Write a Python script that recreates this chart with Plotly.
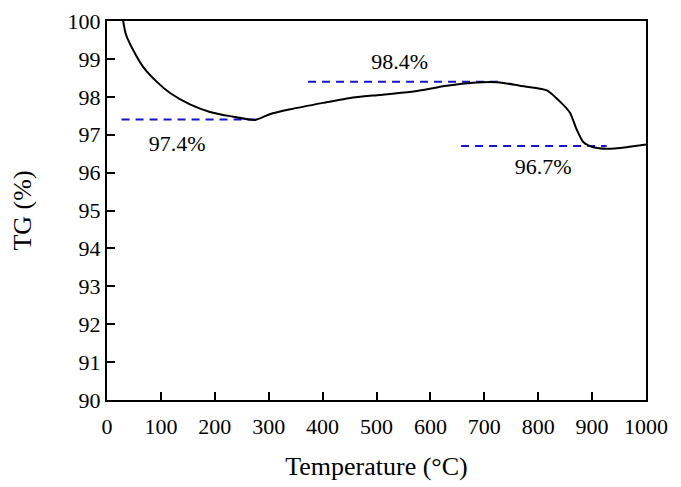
import plotly.graph_objects as go

# TG curve
temp = [30, 35, 49, 67, 92, 117, 154, 191, 228, 275, 302, 340, 401, 451, 506,
        568, 630, 679, 729, 766, 816, 840, 859, 871, 884, 902, 927, 964, 1000]
tg = [100.0, 99.65, 99.22, 98.79, 98.40, 98.10, 97.80, 97.60, 97.49, 97.39, 97.54,
      97.67, 97.84, 97.97, 98.05, 98.14, 98.29, 98.37, 98.38, 98.29, 98.17, 97.88,
      97.58, 97.15, 96.80, 96.67, 96.63, 96.67, 96.74]

# dashed reference levels: (level, start, end)
ref_levels = [97.4, 98.4, 96.7]
ref_start = [27, 373, 657]
ref_end = [277, 732, 927]

# labels for the levels
label_text = ["97.4%", "98.4%", "96.7%"]
label_x = [130, 543, 809]
label_y = [96.72, 98.88, 96.1]

font = "Liberation Serif, Times New Roman, serif"

fig = go.Figure()
for lvl, x0, x1 in zip(ref_levels, ref_start, ref_end):
    fig.add_trace(go.Scatter(x=[x0, x1], y=[lvl, lvl], mode="lines",
                             line=dict(color="#1515c8", width=2, dash="8px,6px"),
                             hoverinfo="skip"))

fig.add_trace(go.Scatter(x=temp, y=tg, mode="lines",
                         line=dict(color="black", width=2, shape="spline", smoothing=0.6)))

fig.add_trace(go.Scatter(x=label_x, y=label_y, mode="text", text=label_text,
                         textfont=dict(family=font, size=22, color="black")))

# top margin kept a bit larger so the top frame line and the "100" label stay visible
fig.update_layout(
    width=681, height=487,
    margin=dict(l=99, r=43, t=13, b=95),
    plot_bgcolor="white", paper_bgcolor="white",
    showlegend=False,
    font=dict(family=font, size=22, color="black"),
    xaxis=dict(range=[0, 1000], tickvals=list(range(0, 1001, 100)),
               ticks="inside", ticklen=8, tickwidth=1.5, tickcolor="black",
               ticklabelstandoff=6,
               showline=True, linecolor="black", linewidth=2, mirror=True,
               showgrid=False, zeroline=False, automargin=False,
               title=dict(text="Temperature (°C)", standoff=18,
                          font=dict(color="black"))),
    yaxis=dict(range=[90, 100], tickvals=list(range(90, 101)),
               ticks="inside", ticklen=8, tickwidth=1.5, tickcolor="black",
               showline=True, linecolor="black", linewidth=2, mirror=True,
               showgrid=False, zeroline=False, automargin=False,
               title=dict(text="TG (%)", standoff=40,
                          font=dict(color="black"))),
)

fig.write_html("out.html", config={"displayModeBar": False})
